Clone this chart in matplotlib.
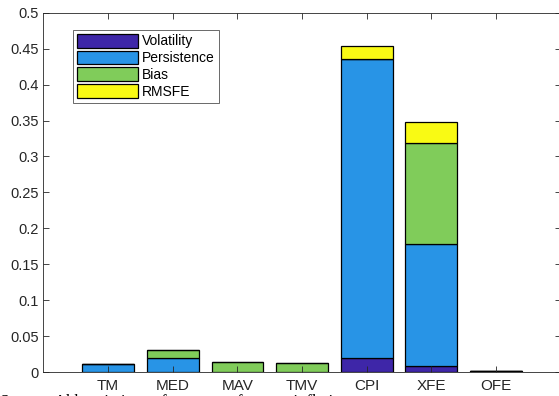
import numpy as np
import matplotlib.pyplot as plt

plt.rcParams['font.family'] = ['Liberation Sans', 'DejaVu Sans']

measures = ['TM', 'MED', 'MAV', 'TMV', 'CPI', 'XFE', 'OFE']
volatility = [0.000, 0.000, 0.000, 0.0005, 0.020, 0.008, 0.002]
persistence = [0.011, 0.020, 0.000, 0.000, 0.416, 0.170, 0.000]
bias = [0.000, 0.010, 0.014, 0.0115, 0.000, 0.141, 0.000]
rmsfe = [0.000, 0.000, 0.0005, 0.000, 0.018, 0.029, 0.000]

series = [
    ('Volatility', volatility, '#3e26a8'),
    ('Persistence', persistence, '#2894e6'),
    ('Bias', bias, '#80cc5a'),
    ('RMSFE', rmsfe, '#f9fa14'),
]

fig = plt.figure(figsize=(5.59, 3.96), dpi=100)
ax = fig.add_axes([0.0778, 0.0606, 0.925, 0.907])

x = np.arange(1, len(measures) + 1)
base = np.zeros(len(measures))
for label, vals, color in series:
    vals = np.array(vals)
    ax.bar(x, vals, 0.8, bottom=base, color=color, edgecolor='black',
           linewidth=0.9, label=label)
    base += vals

ax.set_xlim(0, 8)
ax.set_ylim(0, 0.5)
ax.set_xticks(x)
ax.set_xticklabels(measures, fontsize=11)
yt = np.arange(0, 0.51, 0.05)
ax.set_yticks(yt)
ax.set_yticklabels(['0'] + ['%g' % v for v in yt[1:]])

axcol = '#262626'
for s in ax.spines.values():
    s.set_color(axcol)
    s.set_linewidth(0.6)
ax.tick_params(direction='in', length=4, width=0.6, color=axcol,
               labelsize=10.5, labelcolor=axcol, top=True, right=True)
ax.tick_params(axis='x', pad=5, labelsize=11)

leg = ax.legend(loc='upper left', bbox_to_anchor=(0.057, 0.953),
                prop={'size': 10}, frameon=True, fancybox=False,
                handlelength=4.4, handleheight=1.15, handletextpad=0.25,
                labelspacing=0.15, borderpad=0.3, borderaxespad=0)
leg.get_frame().set_edgecolor(axcol)
leg.get_frame().set_linewidth(0.6)

fig.text(0.0, -0.014, 'Source: Abbreviations of measures for core inflation',
         family='Liberation Serif', fontsize=12, va='center', ha='left')

fig.savefig('out.png', dpi=100)
